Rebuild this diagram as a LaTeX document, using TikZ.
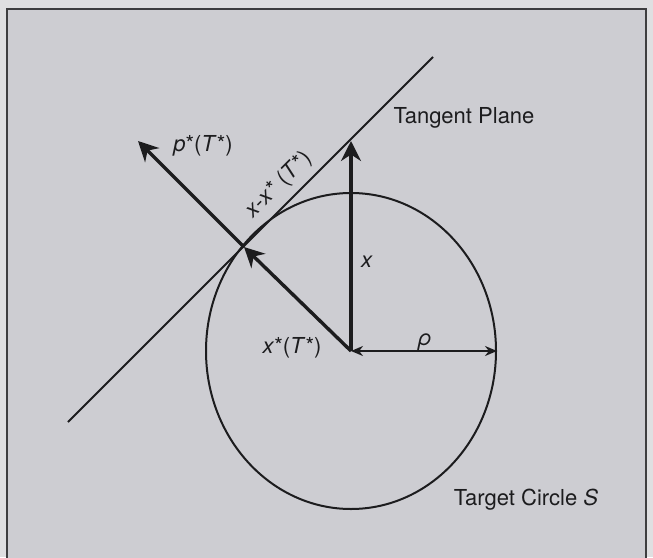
\documentclass[tikz,border=0pt]{standalone}
\usepackage{fontspec}
\setmainfont{TeX Gyre Heros}
\usepackage{xcolor}
\usetikzlibrary{arrows.meta}
\definecolor{paper}{RGB}{223,223,225}
\definecolor{panel}{RGB}{205,205,210}
\definecolor{ink}{RGB}{28,28,30}

\begin{document}
\begin{tikzpicture}[
    x=0.5pt, y=-0.5pt,
    font=\fontsize{11}{13}\selectfont,
    thinline/.style={draw=ink, line width=1pt},
    vec/.style={draw=ink, line width=1.7pt, -{Stealth[length=10pt, width=10pt]}},
    dimline/.style={draw=ink, line width=1pt, {Stealth[length=6pt, width=5pt]}-{Stealth[length=6pt, width=5pt]}},
    lbl/.style={text=ink, inner sep=0pt}
]
\useasboundingbox (0,0) rectangle (653,557);
\clip (0,0) rectangle (653,557);
\fill[paper] (0,0) rectangle (653,557);
\fill[panel] (7,9) rectangle (646,570);
\draw[ink!85, line width=0.8pt] (7,570) -- (7,9) -- (646,9) -- (646,570);

% points of the figure
\coordinate (O) at (351,351);
\coordinate (T) at (244,247);
\coordinate (P) at (138,141);
\coordinate (X) at (351,141);
\coordinate (R) at (497,351);
\coordinate (A) at (68,422);
\coordinate (B) at (433,57);

\draw[thinline] (O) ellipse [x radius=145, y radius=158];
\draw[thinline] (A) -- (B);
\draw[vec] (O) -- (T);
\draw[vec] (T) -- (P);
\draw[vec] (O) -- (X);
\draw[dimline] (O) -- (R);

\node[lbl] (plabel) at (203,146) {\textit{p}*(\textit{T}*)};
\node[lbl, rotate=45] (difflabel) at (279,185) {\textit{x}-\textit{x}* (\textit{T}*)};
\node[lbl] (xlabel) at (367,262) {\textit{x}};
\node[lbl] (rholabel) at (425,342) {\textit{ρ}};
\node[lbl] (xstarlabel) at (292,348) {\textit{x}*(\textit{T}*)};
\node[lbl] (plane) at (464,118) {Tangent Plane};
\node[lbl] (target) at (526,500) {Target Circle \textit{S}};
\end{tikzpicture}
\end{document}
